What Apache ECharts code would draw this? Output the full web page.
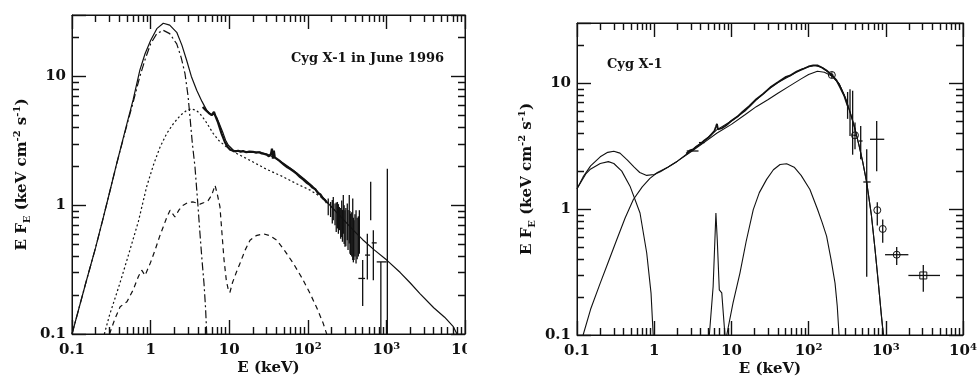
<!DOCTYPE html>
<html>
<head>
<meta charset="utf-8">
<script src="https://cdn.jsdelivr.net/npm/echarts@6/dist/echarts.min.js"></script>
<style>
  html, body { margin: 0; padding: 0; background: #fff; width: 977px; height: 380px; overflow: hidden; }
  #left  { position: absolute; left: 0;     top: 0; width: 467px; height: 380px; }
  #right { position: absolute; left: 467px; top: 0; width: 510px; height: 380px; }
</style>
</head>
<body>
<div id="left"></div>
<div id="right"></div>
<script>
// ---------- axis ranges and tick labels ----------
const X_RANGE = [0.1, 10000];
const Y_RANGE = [0.1, 30];
const X_TICK_VALUES = [0.1, 1, 10, 100, 1000, 10000];
const X_TICK_LABELS = ['0.1', '1', '10', '10^2', '10^3', '10^4'];
const Y_TICK_VALUES = [0.1, 1, 10];
const Y_TICK_LABELS = ['0.1', '1', '10'];

const LEFT_TITLE = 'Cyg X-1 in June 1996';
const RIGHT_TITLE = 'Cyg X-1';

// ---------- Cyg X-1, June 1996 (soft state) ----------
// total model, [E keV, E F_E]
const leftTotal = [
  [0.1,0.1],[0.15,0.25],[0.2,0.47],[0.25,0.8],[0.3,1.25],[0.37,2.1],[0.5,4.3],[0.6,6.6],
  [0.73,11.2],[0.85,15],[1.0,19],[1.2,23.5],[1.45,25.9],[1.75,25],[2.15,22],[2.5,17.5],
  [2.88,13.3],[3.3,10],[3.86,7.8],[4.5,6.4],[5.18,5.45],[6.0,5.0],[6.4,5.1],[6.9,4.84],
  [7.6,4.2],[8.4,3.6],[9.0,3.2],[9.75,2.92],[11.3,2.67],[15,2.62],[20,2.6],[24.7,2.59],
  [30,2.5],[36.4,2.37],[50,2.1],[65.5,1.87],[90,1.6],[117,1.39],[150,1.18],[191,1.0],
  [260,0.82],[379,0.64],[500,0.54],[700,0.45],[1010,0.375],[1500,0.3],[2000,0.25],
  [2670,0.206],[4000,0.16],[5500,0.135],[7100,0.114],[7900,0.1]
];
// disk blackbody (dash-dot)
const leftDisk = [
  [0.1,0.1],[0.15,0.25],[0.2,0.47],[0.25,0.8],[0.3,1.25],[0.37,2.1],[0.5,4.2],[0.6,6.3],
  [0.73,10],[0.85,13.5],[1.0,17.9],[1.2,21.5],[1.45,22.8],[1.75,21.5],[2.15,17.9],
  [2.45,14],[2.74,10.5],[3.0,7],[3.17,4.84],[3.4,3.0],[3.67,1.98],[4.0,1.0],[4.25,0.6],
  [4.5,0.38],[4.78,0.247],[5.0,0.16],[5.18,0.1]
];
// Comptonised continuum (dotted)
const leftCompton = [
  [0.258,0.1],[0.3,0.14],[0.4,0.24],[0.5,0.375],[0.7,0.75],[0.89,1.39],[1.1,2.1],
  [1.32,2.83],[1.6,3.6],[1.95,4.3],[2.4,5.0],[2.88,5.45],[3.3,5.6],[3.8,5.45],[4.25,5.14],
  [5.0,4.5],[6.28,3.6],[7.5,3.15],[9.3,2.83],[12,2.55],[18.4,2.23],[30,1.9],[48.7,1.66],
  [70,1.48],[107,1.31],[150,1.15],[191,1.0],[260,0.82]
];
// reflected component with Fe line (dashed)
const leftReflection = [
  [0.30,0.1],[0.35,0.13],[0.41,0.163],[0.5,0.178],[0.6,0.22],[0.7,0.28],[0.77,0.313],
  [0.85,0.285],[0.89,0.278],[1.0,0.36],[1.14,0.448],[1.3,0.57],[1.45,0.68],[1.6,0.8],
  [1.77,0.915],[2.04,0.81],[2.3,0.92],[2.6,1.0],[3.0,1.05],[3.49,1.06],[4.25,1.02],
  [4.8,1.05],[5.42,1.09],[6.0,1.2],[6.6,1.43],[7.1,1.2],[7.63,0.97],[8.1,0.6],[8.6,0.375],
  [9.2,0.26],[9.75,0.22],[10.2,0.21],[11,0.25],[12.3,0.3],[13.7,0.353],[16,0.45],
  [18.4,0.535],[22,0.58],[27.2,0.6],[33,0.58],[40.2,0.535],[50,0.45],[65.5,0.353],
  [85,0.27],[107,0.206],[130,0.16],[157,0.121],[174,0.1]
];
// measured spectrum, fine-binned part
const leftData = [
  [4.6,5.8],[5.0,5.5],[5.5,5.2],[6.0,5.0],[6.4,5.3],[6.7,4.9],[7.2,4.4],[8,3.6],[8.8,3.1],
  [9.5,2.85],[10.3,2.7],[11,2.66],[12,2.62],[13,2.65],[14,2.6],[15,2.63],[16.5,2.58],
  [18,2.61],[20,2.6],[22,2.56],[24,2.58],[26,2.52],[28,2.5],[30,2.47],[32,2.4],[34,2.5],
  [35,2.75],[36,2.3],[37,2.65],[38,2.35],[40,2.3],[43,2.23],[46,2.15],[50,2.06],[55,1.97],
  [60,1.91],[66,1.83],[72,1.76],[80,1.65],[88,1.58],[96,1.5],[105,1.45],[115,1.37],
  [125,1.33],[135,1.24],[145,1.21],[155,1.13],[165,1.1],[175,1.04]
];
// measured spectrum with errors: [E, F, Elo, Ehi, Flo, Fhi, marker]
const leftErrors = [
  [182,0.98,182,182,0.836,1.13,0],[195,0.93,195,195,0.81,1.06,0],[205,0.9,205,205,0.72,1.1,0],
  [211,0.94,211,211,0.766,1.16,0],[222,0.85,222,222,0.70,1.03,0],[230,0.8,230,230,0.62,1.05,0],
  [238,0.83,238,238,0.66,1.06,0],[245,0.82,245,245,0.6,1.02,0],[252,0.79,252,252,0.64,0.97,0],
  [262,0.72,262,262,0.55,0.95,0],[270,0.78,270,270,0.567,1.09,0],[276,0.7,276,276,0.52,0.92,0],
  [283,0.85,283,283,0.60,1.20,0],[290,0.72,290,290,0.5,1.0,0],[297,0.66,297,297,0.475,0.915,0],
  [305,0.68,305,305,0.48,0.95,0],[318,0.74,318,318,0.535,1.03,0],[325,0.65,325,325,0.45,0.92,0],
  [337,0.78,337,337,0.505,1.20,0],[344,0.62,344,344,0.42,0.9,0],[351,0.60,351,351,0.41,0.86,0],
  [362,0.6,362,362,0.4,0.88,0],[373,0.65,373,373,0.375,1.13,0],[380,0.55,380,380,0.36,0.8,0],
  [387,0.54,387,387,0.375,0.766,0],[398,0.6,398,398,0.4,0.85,0],[411,0.57,411,411,0.353,0.915,0],
  [425,0.55,425,425,0.38,0.8,0],[440,0.58,440,440,0.4,0.82,0],[453,0.62,453,453,0.42,0.915,0],
  [499,0.27,440,535,0.165,0.375,0],[572,0.41,535,620,0.265,0.60,0],[631,1.1,631,631,0.766,1.52,0],
  [682,0.51,650,753,0.262,0.64,0],[850,0.363,753,1009,0.1,0.363,0],[1028,0.363,1028,1028,0.1,1.92,0]
];

// ---------- Cyg X-1 (hard state) ----------
const rightTotal = [
  [0.1,1.45],[0.12,1.8],[0.15,2.2],[0.2,2.6],[0.25,2.82],[0.3,2.88],[0.36,2.78],[0.45,2.45],
  [0.55,2.15],[0.65,1.95],[0.8,1.85],[1.0,1.88],[1.2,1.98],[1.5,2.15],[2,2.4],[3,2.9],
  [4.5,3.5],[6.45,4.25],[10,5.0],[15,6.0],[21,7.35],[30,8.9],[40,10.1],[57,11.4],[80,12.8],
  [100,13.5],[120,13.8],[150,13.3],[200,11.6],[250,9.8],[300,7.6],[350,5.7],[400,4.3],
  [450,3.2],[500,2.4],[566,1.62],[650,0.9],[725,0.48],[800,0.26],[870,0.15],[930,0.1]
];
const rightCompton = [
  [0.12,0.1],[0.15,0.16],[0.2,0.258],[0.25,0.37],[0.327,0.57],[0.42,0.85],[0.537,1.19],
  [0.7,1.5],[0.88,1.75],[1.1,1.95],[1.5,2.15],[2,2.4],[3,2.85],[4.5,3.4],[6.45,4.0],[10,4.7],
  [15,5.6],[21,6.5],[30,7.4],[40,8.3],[57,9.5],[80,10.8],[100,11.7],[130,12.4],[160,12.2],
  [200,11.4],[250,9.8],[300,7.6],[350,5.7],[400,4.3],[450,3.2],[500,2.4],[566,1.62],
  [650,0.9],[725,0.48],[800,0.26],[870,0.15],[930,0.1]
];
const rightBlackbody = [
  [0.1,1.45],[0.13,1.9],[0.147,2.06],[0.2,2.3],[0.255,2.38],[0.3,2.3],[0.38,2.0],
  [0.486,1.52],[0.655,0.93],[0.8,0.448],[0.91,0.215],[0.97,0.1]
];
const rightIronLine = [
  [5.18,0.1],[5.8,0.243],[6.3,0.93],[6.56,0.57],[6.97,0.228],[7.5,0.216],[7.85,0.149],[8.25,0.1]
];
const rightReflection = [
  [8.7,0.1],[10.5,0.18],[12.9,0.31],[15.5,0.55],[19.2,0.99],[23,1.35],[28.6,1.72],[35,2.05],
  [42.7,2.26],[52,2.29],[65,2.15],[80,1.85],[104,1.43],[130,1.0],[150,0.78],[171,0.61],
  [195,0.4],[220,0.258],[235,0.17],[248,0.1]
];
const rightData = [
  [2.6,2.75],[2.9,2.92],[3.2,2.98],[3.5,3.12],[4.0,3.3],[4.5,3.52],[5.0,3.68],[5.5,3.92],
  [6.0,4.15],[6.3,4.5],[6.5,4.75],[6.7,4.3],[7.0,4.15],[7.5,4.38],[8.5,4.6],[10,5.02],
  [12,5.42],[14,5.93],[17,6.55],[21,7.45],[26,8.25],[32,9.25],[40,10.15],[50,11.15],
  [57,11.45],[70,12.35],[85,12.95],[100,13.55],[115,13.85],[130,13.85],[150,13.25],
  [175,12.45],[200,11.6],[230,10.5],[260,9.1],[290,7.9],[320,6.6]
];
const rightErrors = [
  [3.06,2.89,2.64,3.75,2.89,2.89,0],[4.12,3.37,3.8,4.5,3.37,3.37,0],
  [200,11.6,190,210,11.0,12.2,1],[320,6.8,320,320,5.2,8.5,0],[344,6.0,344,344,3.8,8.95,0],
  [372,5.0,372,372,2.7,8.7,0],[399,3.85,380,420,2.98,4.86,1],[473,3.47,450,500,2.48,4.57,0],
  [566,1.64,511,637,0.29,2.98,0],[762,3.58,624,955,2.0,5.0,0],[776,0.98,776,776,0.74,1.13,1],
  [912,0.695,912,912,0.54,0.825,1],[1384,0.434,978,1960,0.36,0.5,1],[3060,0.297,1960,5035,0.22,0.36,2]
];

// ---------- drawing ----------
const FONT = 'DejaVu Serif';
const INK = '#111';
const MAJOR_LEN = 14, MINOR_LEN = 7, TICK_W = 1.4;

function toRich(label) {
  const m = label.match(/^(\d+)\^(\d+)$/);
  return m ? m[1] + '{s|' + m[2] + '}' : label;
}
function labelFormatter(values, labels) {
  return function (v) {
    for (let i = 0; i < values.length; i++) {
      if (Math.abs(Math.log10(v) - Math.log10(values[i])) < 1e-6) return toRich(labels[i]);
    }
    return '';
  };
}
function decadeMinors(lo, hi) {
  const out = [];
  for (let d = Math.floor(Math.log10(lo) + 1e-9); d < Math.ceil(Math.log10(hi) - 1e-9); d++) {
    for (let k = 2; k <= 9; k++) {
      const v = k * Math.pow(10, d);
      if (v > lo * 1.0001 && v < hi * 0.9999) out.push(v);
    }
  }
  return out;
}

function lineSeries(data, dash, width) {
  return {
    type: 'line', data: data, showSymbol: false, symbol: 'none',
    lineStyle: { color: INK, width: width || 1.1, type: dash || 'solid' }
  };
}

// minor ticks (2..9 of each decade) on all four sides, as short segments in data space;
// plotW / plotH are the plot-area sizes in pixels, used to turn the tick length into a ratio
function minorTickSeries(plotW, plotH) {
  const fx = Math.pow(10, MINOR_LEN * Math.log10(X_RANGE[1] / X_RANGE[0]) / plotW);
  const fy = Math.pow(10, MINOR_LEN * Math.log10(Y_RANGE[1] / Y_RANGE[0]) / plotH);
  const segs = [];
  decadeMinors(X_RANGE[0], X_RANGE[1]).forEach(v => {
    segs.push({ coords: [[v, Y_RANGE[0]], [v, Y_RANGE[0] * fy]] });
    segs.push({ coords: [[v, Y_RANGE[1]], [v, Y_RANGE[1] / fy]] });
  });
  decadeMinors(Y_RANGE[0], Y_RANGE[1]).forEach(v => {
    segs.push({ coords: [[X_RANGE[0], v], [X_RANGE[0] * fx, v]] });
    segs.push({ coords: [[X_RANGE[1], v], [X_RANGE[1] / fx, v]] });
  });
  return {
    type: 'lines', coordinateSystem: 'cartesian2d',
    lineStyle: { color: INK, width: TICK_W, opacity: 1 }, data: segs
  };
}

// data points with x/y error bars and optional circle / square markers
function errorSeries(rows) {
  return {
    type: 'custom', encode: { x: 0, y: 1 }, data: rows,
    renderItem: function (params, api) {
      const E = api.value(0), F = api.value(1);
      const c = api.coord([E, F]);
      const lo = api.coord([E, api.value(4)]), hi = api.coord([E, api.value(5)]);
      const xl = api.coord([api.value(2), F]), xh = api.coord([api.value(3), F]);
      const st = { stroke: INK, lineWidth: 1.3, fill: null };
      const kids = [
        { type: 'line', shape: { x1: c[0], y1: lo[1], x2: c[0], y2: hi[1] }, style: st },
        { type: 'line', shape: { x1: xl[0], y1: c[1], x2: xh[0], y2: c[1] }, style: st }
      ];
      const mk = api.value(6);
      if (mk === 1) kids.push({ type: 'circle', shape: { cx: c[0], cy: c[1], r: 3.5 }, style: { stroke: INK, lineWidth: 1, fill: 'rgba(0,0,0,0)' } });
      if (mk === 2) kids.push({ type: 'rect', shape: { x: c[0] - 3.5, y: c[1] - 3.5, width: 7, height: 7 }, style: { stroke: INK, lineWidth: 1, fill: 'rgba(0,0,0,0)' } });
      return { type: 'group', children: kids };
    }
  };
}

function yTitle() {
  return '{n|E F}{sub|E}{n| (keV cm}{sup|-2}{n| s}{sup|-1}{n|)}';
}

function majorTick() {
  return { show: true, inside: true, length: MAJOR_LEN, lineStyle: { color: INK, width: TICK_W } };
}
function frameLine() {
  return { show: true, lineStyle: { color: INK, width: 1 } };
}

function panelOption(grid, yNameGap, title, titlePos, series) {
  return {
    animation: false,
    grid: Object.assign({ show: true, borderColor: INK, borderWidth: 1,
                          containLabel: false, outerBoundsMode: 'none' }, grid),
    xAxis: [
      {
        type: 'log', min: X_RANGE[0], max: X_RANGE[1], position: 'bottom',
        axisLine: frameLine(), axisTick: majorTick(), splitLine: { show: false },
        axisLabel: {
          show: true, showMinLabel: true, showMaxLabel: true, hideOverlap: false, margin: 7,
          color: INK, fontFamily: FONT, fontWeight: 'bold', fontSize: 15, lineHeight: 18,
          formatter: labelFormatter(X_TICK_VALUES, X_TICK_LABELS),
          rich: { s: { fontFamily: FONT, fontWeight: 'bold', fontSize: 10, lineHeight: 11, verticalAlign: 'top', color: INK } }
        },
        name: 'E (keV)', nameLocation: 'middle', nameGap: 27, nameMoveOverlap: false,
        nameTextStyle: { color: INK, fontFamily: FONT, fontWeight: 'bold', fontSize: 15 }
      },
      {
        type: 'log', min: X_RANGE[0], max: X_RANGE[1], position: 'top',
        axisLine: frameLine(), axisTick: majorTick(), splitLine: { show: false }, axisLabel: { show: false }
      }
    ],
    yAxis: [
      {
        type: 'log', min: Y_RANGE[0], max: Y_RANGE[1], position: 'left',
        axisLine: frameLine(), axisTick: majorTick(), splitLine: { show: false },
        axisLabel: {
          show: true, showMinLabel: true, showMaxLabel: true, hideOverlap: false, margin: 6,
          color: INK, fontFamily: FONT, fontWeight: 'bold', fontSize: 15,
          formatter: labelFormatter(Y_TICK_VALUES, Y_TICK_LABELS)
        },
        name: yTitle(), nameLocation: 'middle', nameRotate: 90, nameGap: yNameGap, nameMoveOverlap: false,
        nameTextStyle: {
          color: INK, fontFamily: FONT, fontWeight: 'bold', fontSize: 15,
          rich: {
            n: { fontFamily: FONT, fontWeight: 'bold', fontSize: 15, lineHeight: 20, color: INK },
            sub: { fontFamily: FONT, fontWeight: 'bold', fontSize: 10, lineHeight: 11, verticalAlign: 'bottom', color: INK },
            sup: { fontFamily: FONT, fontWeight: 'bold', fontSize: 10, lineHeight: 11, verticalAlign: 'top', color: INK }
          }
        }
      },
      {
        type: 'log', min: Y_RANGE[0], max: Y_RANGE[1], position: 'right',
        axisLine: frameLine(), axisTick: majorTick(), splitLine: { show: false }, axisLabel: { show: false }
      }
    ],
    graphic: [{
      type: 'text', left: titlePos[0], top: titlePos[1],
      style: { text: title, fill: INK, font: 'bold 13px "' + FONT + '"' }
    }],
    series: series
  };
}

const LEFT_GRID = { left: 72, right: 2, top: 15, bottom: 46 };
const RIGHT_GRID = { left: 110, right: 14, top: 23, bottom: 45 };

const leftChart = echarts.init(document.getElementById('left'));
leftChart.setOption(panelOption(LEFT_GRID, 40, LEFT_TITLE, [291, 52], [
  lineSeries(leftTotal, 'solid', 1.2),
  lineSeries(leftDisk, [8, 3, 2, 3], 1.2),
  lineSeries(leftCompton, [2, 2.5], 1.2),
  lineSeries(leftReflection, [5, 4], 1.2),
  lineSeries(leftData, 'solid', 2.2),
  errorSeries(leftErrors),
  minorTickSeries(467 - LEFT_GRID.left - LEFT_GRID.right, 380 - LEFT_GRID.top - LEFT_GRID.bottom)
]));

const rightChart = echarts.init(document.getElementById('right'));
rightChart.setOption(panelOption(RIGHT_GRID, 40, RIGHT_TITLE, [140, 58], [
  lineSeries(rightTotal, 'solid', 1.1),
  lineSeries(rightCompton, 'solid', 1.1),
  lineSeries(rightBlackbody, 'solid', 1.1),
  lineSeries(rightIronLine, 'solid', 1.1),
  lineSeries(rightReflection, 'solid', 1.1),
  lineSeries(rightData, 'solid', 1.8),
  errorSeries(rightErrors),
  minorTickSeries(510 - RIGHT_GRID.left - RIGHT_GRID.right, 380 - RIGHT_GRID.top - RIGHT_GRID.bottom)
]));
</script>
</body>
</html>
